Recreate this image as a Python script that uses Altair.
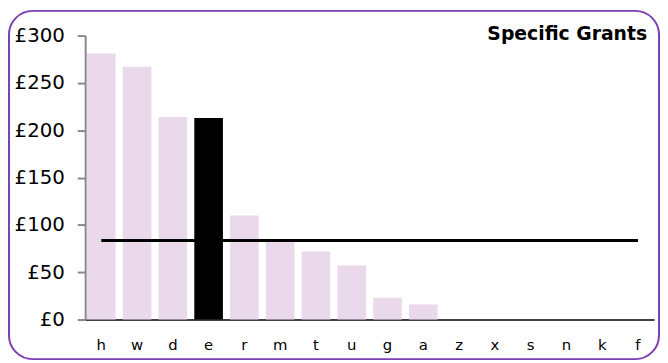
import altair as alt
import pandas as pd

categories = ["h", "w", "d", "e", "r", "m", "t", "u", "g", "a", "z", "x", "s", "n", "k", "f"]
values = [281, 267, 214, 213, 110, 82, 72, 57, 23, 16, 0, 0, 0, 0, 0, 0]
highlight = "e"
average = [83.5] * len(categories)
y_ticks = [0, 50, 100, 150, 200, 250, 300]
title_text = "Specific Grants"

df = pd.DataFrame({
    "cat": categories,
    "value": values,
    "avg": average,
    "hl": ["yes" if c == highlight else "no" for c in categories],
})

FONT = "DejaVu Sans"
W, H = 575, 287

xenc = alt.X("cat:N", sort=categories,
             scale=alt.Scale(paddingInner=0.2, paddingOuter=0.05),
             axis=alt.Axis(title=None, labelAngle=0, ticks=False, domainColor="black",
                           domainWidth=1.5, labelFontSize=15, labelFont=FONT,
                           labelColor="black", labelPadding=18))
yscale = alt.Scale(domain=[0, 300], nice=False)

bars = alt.Chart(df).mark_bar().encode(
    x=xenc,
    y=alt.Y("value:Q", scale=yscale,
            axis=alt.Axis(title=None, values=y_ticks, grid=False, domainColor="#888888",
                          domainWidth=2, tickColor="#888888", tickSize=8, tickWidth=2,
                          labelFontSize=20, labelFont=FONT, labelColor="black",
                          labelPadding=13, labelExpr="'£' + datum.value")),
    color=alt.Color("hl:N", scale=alt.Scale(domain=["no", "yes"], range=["#ead9ea", "#000000"]),
                    legend=None),
)

line = alt.Chart(df).mark_line(color="black", strokeWidth=3).encode(
    x=alt.X("cat:N", sort=categories),
    y=alt.Y("avg:Q", scale=yscale),
)

title = alt.Chart(pd.DataFrame({"t": [title_text]})).mark_text(
    align="right", baseline="middle", font=FONT, fontSize=19, fontWeight="bold", color="black"
).encode(x=alt.value(568), y=alt.value(-2), text="t:N")

border = alt.Chart(pd.DataFrame({"b": [1]})).mark_rect(
    fill=None, stroke="#7b3fb3", strokeWidth=2, cornerRadius=24
).encode(x=alt.value(-77), x2=alt.value(580), y=alt.value(-25), y2=alt.value(327))

chart = alt.layer(border, bars, line, title).properties(
    width=W, height=H,
    background="white",
    autosize=alt.AutoSizeParams(type="none"),
    padding={"left": 78, "top": 26, "right": 6, "bottom": 41},
).configure_view(stroke=None)

chart.save("out.html", embed_options={"renderer": "svg", "actions": False})
